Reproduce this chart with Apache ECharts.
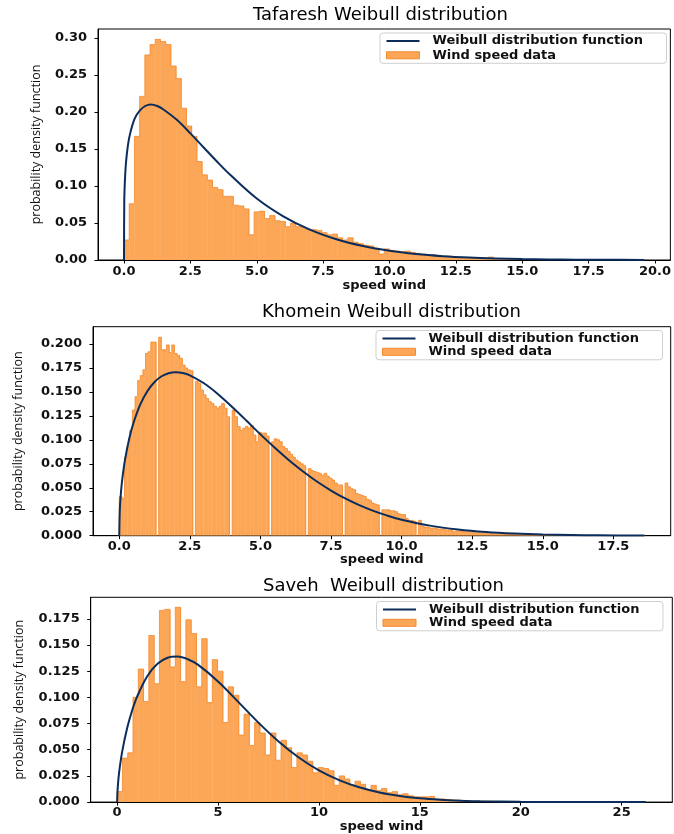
<!DOCTYPE html>
<html>
<head>
<meta charset="utf-8">
<script src="https://cdn.jsdelivr.net/npm/echarts@6/dist/echarts.min.js"></script>
<style>html,body{margin:0;padding:0;background:#fff}#c{width:674px;height:834px}</style>
</head>
<body>
<div id="c"></div>
<script>
// ---------- DATA ----------
const titles = ['Tafaresh Weibull distribution', 'Khomein Weibull distribution', 'Saveh  Weibull distribution'];
const seriesNames = ['Weibull distribution function', 'Wind speed data'];
const xAxisName = 'speed wind';
const yAxisName = 'probability density function';

// histogram bins: first edge, bin width, bin heights
const tafareshBinStart = 0, tafareshBinWidth = 0.196;
const tafareshHist = [
0.027,0.076,0.167,0.221,0.277,0.291,0.298,0.295,0.291,0.262,
0.245,0.205,0.181,0.167,0.133,0.115,0.108,0.098,0.095,0.086,
0.086,0.074,0.073,0.069,0.034,0.065,0.066,0.056,0.060,0.053,
0.052,0.045,0.050,0.045,0.044,0.041,0.041,0.040,0.037,0.034,
0.035,0.030,0.027,0.030,0.024,0.022,0.020,0.019,0.016,0.008,
0.015,0.013,0.012,0.011,0.012,0.010,0.009,0.008,0.007,0.007,
0.006,0.005,0.005,0.0045,0.004,0.0035,0.003,0.003,0.0025,0.0025,
0.004,0.002,0.0015,0.0015,0.001,0.0008,0.0006,0.0005,0.0004,0.0004,
0.0003,0.0003,0.0002,0.0002,0.0002,0.0001,0.0001,0.0001,0.0001,0.0001,
0,0.0001,0,0,0.0001,0,0,0,0,0.0001];
const tafareshCurveX = [0,0.01,0.05,0.1,0.2,0.4,0.6,0.8,1.0,1.25,1.5,2,2.5,3,3.5,4,5,6,7,8,9,10,11,12,13,14,15,16,17,18,19.6];
const tafareshCurveY = [0,0.080,0.119,0.141,0.166,0.191,0.202,0.208,0.210,0.208,0.203,0.189,0.171,0.152,0.133,0.115,0.083,0.059,0.041,0.028,0.0188,0.0124,0.0081,0.0052,0.0033,0.0021,0.0013,0.0008,0.0005,0.0003,0.0001];
const tafareshXTicks = [0,2.5,5,7.5,10,12.5,15,17.5,20];
const tafareshYTicks = [0,0.05,0.10,0.15,0.20,0.25,0.30];

const khomeinBinStart = 0, khomeinBinWidth = 0.093;
const khomeinHist = [
0.041,0.039,0.082,0.093,0.110,0.131,0.145,0.162,0.167,0.173,
0.190,0.192,0.202,0.202,0,0.207,0.194,0.194,0.199,0.191,
0.199,0.190,0.188,0.185,0.178,0.175,0.173,0.172,0,0.161,
0.159,0.152,0.147,0.143,0.140,0.138,0.135,0.133,0.135,0.138,
0.133,0.124,0,0.131,0.124,0.114,0.110,0.112,0.114,0.112,
0.115,0.105,0.098,0.108,0.107,0.107,0.104,0,0.098,0.101,
0.100,0.098,0.093,0.091,0.088,0.085,0.082,0.079,0.077,0.075,
0.073,0,0.070,0.068,0.067,0.066,0.065,0.063,0.065,0.062,
0.060,0.058,0.055,0.053,0.053,0,0.055,0.051,0.049,0.048,
0.044,0.043,0.042,0.041,0.038,0.037,0.034,0.033,0.032,0,
0.027,0.027,0.027,0.026,0.026,0.025,0.023,0.022,0.022,0.018,
0.016,0.016,0.015,0,0.016,0.010,0.009,0.009,0.008,0.008,
0.008,0.007,0.007,0.007,0.006,0.006,0.006,0.004,0.005,0.005,
0.005,0.004,0.004,0.004,0.004,0.003,0.003,0.003,0.003,0.003,
0.002,0.0025,0.002,0.002,0.002,0.0018,0.0016,0.0015,0.0014,0.0013,
0.0012,0.0011,0.001,0.001,0.0009,0.0008,0.0008,0.0007,0.0006,0.0006,
0.0005,0.0005,0.0004,0.0004,0.0004,0.0003,0.0003,0.0003,0.0002,0.0002,
0.0002,0.0002,0.0002,0.0001,0.0001,0.0001,0.0001,0.0001,0.0001,0.0001,
0.0001,0,0.0001,0,0.0001,0,0,0.0001,0,0,
0,0.0001,0,0,0,0,0,0,0,0.0001];
const khomeinCurveX = [0,0.02,0.05,0.1,0.2,0.35,0.5,0.75,1,1.25,1.5,1.75,2,2.25,2.5,3,3.5,4,4.5,5,5.5,6,6.5,7,7.5,8,8.5,9,9.5,10,11,12,13,14,15,16,17,18.6];
const khomeinCurveY = [0,0.027,0.0414,0.0572,0.0786,0.1009,0.1173,0.1372,0.1509,0.1603,0.1663,0.1695,0.1705,0.1697,0.1673,0.159,0.1476,0.1342,0.1201,0.1057,0.092,0.079,0.0672,0.0565,0.0471,0.0389,0.0319,0.0259,0.0209,0.0167,0.0105,0.0064,0.0038,0.0022,0.0012,0.0007,0.0004,0.0001];
const khomeinXTicks = [0,2.5,5,7.5,10,12.5,15,17.5];
const khomeinYTicks = [0,0.025,0.05,0.075,0.1,0.125,0.15,0.175,0.2];

const savehBinStart = 0, savehBinWidth = 0.262;
const savehHist = [
0.010,0.042,0.047,0.100,0.127,0.096,0.159,0.113,0.183,0.184,
0.129,0.186,0.115,0.174,0.161,0.110,0.156,0.095,0.136,0.125,
0.076,0.110,0.102,0.064,0.084,0.054,0.076,0.066,0.045,0.066,
0.040,0.059,0.052,0.033,0.047,0.045,0.039,0.028,0.033,0.032,
0.030,0.016,0.025,0.022,0.016,0.020,0.017,0.012,0.016,0.011,
0.013,0.009,0.010,0.007,0.008,0.006,0.005,0.005,0.005,0.0055,
0.003,0.003,0.0025,0.002,0.002,0.0015,0.0015,0.001,0.001,0.001,
0.0008,0.0006,0.0006,0.0005,0.0005,0.0004,0.0004,0.0003,0.0003,0.0003,
0.0002,0.0002,0.0002,0.0002,0.0001,0.0001,0.0001,0.0001,0.0001,0.0001,
0.0001,0,0.0001,0,0,0.0001,0,0,0,0.0001];
const savehCurveX = [0,0.03,0.1,0.25,0.5,0.75,1,1.5,2,2.5,3,3.5,4,5,6,7,8,9,10,11,12,13,14,15,16,17,18,20,22,24,26.2];
const savehCurveY = [0,0.014,0.0285,0.0482,0.0709,0.0879,0.1012,0.1204,0.132,0.1378,0.1389,0.1364,0.1312,0.1152,0.0957,0.0759,0.0579,0.0426,0.0303,0.021,0.0141,0.0092,0.0059,0.0037,0.0023,0.0014,0.0008,0.0003,0.0001,0.00003,0];
const savehXTicks = [0,5,10,15,20,25];
const savehYTicks = [0,0.025,0.05,0.075,0.1,0.125,0.15,0.175];

// ---------- STYLE / LAYOUT ----------
const FILL = '#fca757', EDGE = '#f4892d', LINE = '#0b2d5b';
const TICK_FONT = {fontFamily: 'DejaVu Sans', fontWeight: 'bold', fontSize: 13, color: '#111'};

const panels = [
  {hist: tafareshHist, start: tafareshBinStart, width: tafareshBinWidth, cx: tafareshCurveX, cy: tafareshCurveY,
   xt: tafareshXTicks, yt: tafareshYTicks, xmin: -0.98, xmax: 20.58, ymax: 0.312, xd: 1, yd: 2,
   grid: {left: 98, top: 29, width: 574, height: 231}, title: {left: 253, top: 5},
   legend: {left: 380, top: 33, gap: 1.3}, yGap: 55, xMargin: 5, xGap: 15},
  {hist: khomeinHist, start: khomeinBinStart, width: khomeinBinWidth, cx: khomeinCurveX, cy: khomeinCurveY,
   xt: khomeinXTicks, yt: khomeinYTicks, xmin: -0.93, xmax: 19.53, ymax: 0.218, xd: 1, yd: 3,
   grid: {left: 93, top: 326.7, width: 577.7, height: 209}, title: {left: 262, top: 302},
   legend: {left: 376, top: 330.5, gap: 0.3}, yGap: 68, xMargin: 4, xGap: 13},
  {hist: savehHist, start: savehBinStart, width: savehBinWidth, cx: savehCurveX, cy: savehCurveY,
   xt: savehXTicks, yt: savehYTicks, xmin: -1.31, xmax: 27.51, ymax: 0.1955, xd: 0, yd: 3,
   grid: {left: 90.7, top: 597.3, width: 581.6, height: 209.4}, title: {left: 263, top: 576.5},
   legend: {left: 376.5, top: 601.5, gap: 0.3}, yGap: 64.5, xMargin: 4, xGap: 13}
];

function histData(start, width, vals) {
  return vals.map((h, i) => [start + i * width, start + (i + 1) * width, h, i > 0 ? vals[i - 1] : 0, i === vals.length - 1 ? 1 : 0]);
}

function renderHist(params, api) {
  const x0 = api.value(0), x1 = api.value(1), h = api.value(2), hp = api.value(3), last = api.value(4);
  const a = api.coord([x0, 0]), b = api.coord([x1, h]), c = api.coord([x0, hp]);
  const children = [];
  if (h > 0) {
    children.push({type: 'rect', shape: {x: a[0], y: b[1], width: b[0] - a[0] + 0.4, height: a[1] - b[1]},
      style: {fill: FILL}});
  }
  const pts = [[a[0], c[1]], [a[0], b[1]], [b[0], b[1]]];
  if (last) pts.push([b[0], a[1]]);
  children.push({type: 'polyline', shape: {points: pts}, style: {stroke: EDGE, lineWidth: 0.8, fill: null}});
  return {type: 'group', children};
}

const option = {
  animation: false,
  backgroundColor: '#fff',
  title: [], grid: [], xAxis: [], yAxis: [], legend: [], series: []
};

panels.forEach((p, i) => {
  option.title.push({text: titles[i], left: p.title.left, top: p.title.top, padding: 0,
    textStyle: {fontFamily: 'DejaVu Sans', fontWeight: 'normal', fontSize: 18, color: '#000', lineHeight: 20}});
  option.grid.push(Object.assign({show: true, borderColor: '#000', borderWidth: 1, backgroundColor: 'transparent'}, p.grid));
  option.xAxis.push({type: 'value', gridIndex: i, min: p.xmin, max: p.xmax,
    name: xAxisName, nameLocation: 'middle', nameGap: p.xGap,
    nameTextStyle: {fontFamily: 'DejaVu Sans', fontWeight: 'bold', fontSize: 13, color: '#111', verticalAlign: 'top'},
    axisLine: {show: true, onZero: false, lineStyle: {color: '#000', width: 1}},
    axisTick: {show: true, length: 3.5, lineStyle: {color: '#000'}, customValues: p.xt},
    axisLabel: Object.assign({margin: p.xMargin, customValues: p.xt, formatter: v => v.toFixed(p.xd)}, TICK_FONT),
    splitLine: {show: false}});
  option.yAxis.push({type: 'value', gridIndex: i, min: 0, max: p.ymax,
    name: yAxisName, nameLocation: 'middle', nameGap: p.yGap,
    nameTextStyle: {fontFamily: 'Open Sans', fontSize: 12.5, color: '#111'},
    axisLine: {show: true, onZero: false, lineStyle: {color: '#000', width: 1}},
    axisTick: {show: true, length: 3.5, lineStyle: {color: '#000'}, customValues: p.yt},
    axisLabel: Object.assign({margin: 11, customValues: p.yt, formatter: v => v.toFixed(p.yd)}, TICK_FONT),
    splitLine: {show: false}});
  option.legend.push({
    left: p.legend.left, top: p.legend.top, orient: 'vertical',
    data: [{name: seriesNames[0], icon: 'path://M0,0H100V6H0Z', itemStyle: {color: LINE}},
           {name: seriesNames[1], icon: 'rect', itemStyle: {color: FILL, borderColor: EDGE, borderWidth: 1}}],
    itemWidth: 33, itemHeight: 7, itemGap: p.legend.gap,
    padding: [1.5, 7, 1.5, 6],
    borderColor: '#cfcfcf', borderWidth: 1, borderRadius: 3, backgroundColor: 'rgba(255,255,255,0.85)',
    selectedMode: false,
    textStyle: {fontFamily: 'DejaVu Sans', fontWeight: 'bold', fontSize: 13, color: '#111',
      lineHeight: 12, width: 227, padding: [0, 0, 0, 8]}
  });
  option.series.push({
    name: seriesNames[1], type: 'custom', xAxisIndex: i, yAxisIndex: i, z: 2, clip: true,
    itemStyle: {color: FILL, borderColor: EDGE},
    encode: {x: [0, 1], y: 2},
    renderItem: renderHist,
    data: histData(p.start, p.width, p.hist)
  });
  option.series.push({
    name: seriesNames[0], type: 'line', xAxisIndex: i, yAxisIndex: i, z: 3,
    showSymbol: false, symbol: 'none', smooth: 0.35,
    lineStyle: {color: LINE, width: 2}, itemStyle: {color: LINE},
    data: p.cx.map((x, j) => [x, p.cy[j]])
  });
});

const chart = echarts.init(document.getElementById('c'), null, {renderer: 'canvas', width: 674, height: 834});
chart.setOption(option);
</script>
</body>
</html>
